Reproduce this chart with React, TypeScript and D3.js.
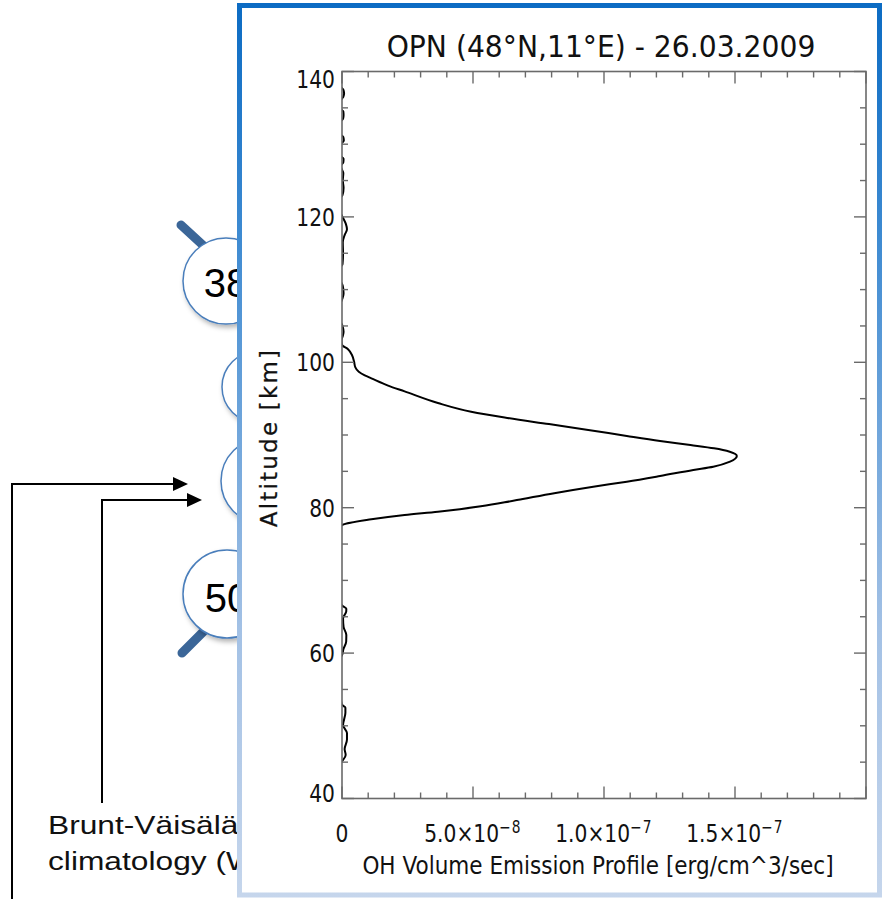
import React from "react";
import * as d3 from "d3";

// OH volume emission profile over Oberpfaffenhofen, 26.03.2009
// altitude in km, listed from top to bottom
const altitudeKm = [
  138, 137.5, 137, 136.5, 136, 135, 134.5, 134, 133.5, 133, 131.5, 131, 130.5, 130,
  128.5, 128, 127.5, 127, 126, 125, 124, 123, 122.5, 121, 120, 119, 118.3, 117.5,
  116.5, 115, 113.5, 113, 111.5, 110.5, 109.5, 108.8, 108, 106, 105, 104.2, 103.5,
  103, 102.4, 101.8, 101, 100.1, 99.3, 98.7, 98.2, 97.8, 96.8, 96, 94.4, 93.2, 92.4,
  91.5, 90.7, 89.86, 89.17, 88.62, 88.17, 87.7, 87.11, 86.33, 85.64,
  85.19, 84.36, 83.58, 82.89, 82.0, 81.2, 80.74, 80.2, 79.8, 79.45, 79.0, 78.4,
  77.6, 77.0, 72, 67, 66.55, 66.1, 65.7, 64.8, 63.6, 62.5, 61.6, 60.5, 59.7, 59.2,
  55, 53.3, 52.9, 52.5, 51.8, 50.1, 49, 48.1, 46.8, 46, 45.1, 44.6,
];

// emission in units of 1e-8 erg/cm^3/sec
const emissionE8 = [
  -0.1, 0.05, 0.08, 0.05, -0.05, -0.1, 0.05, 0.06, 0.04, -0.08, -0.1, 0.05, 0.07, -0.04,
  -0.1, 0.06, 0.05, -0.05, 0.05, 0.03, 0.06, 0.02, -0.08, -0.1, 0.02, 0.15, 0.19, 0.1,
  0.03, 0.04, 0.02, -0.06, -0.08, 0.03, 0.06, 0.02, -0.06, -0.1, 0.02, 0.06, 0.02,
  -0.02, 0.0, 0.23, 0.38, 0.46, 0.51, 0.64, 0.87, 1.12, 1.76, 2.39, 3.66, 4.93, 6.21,
  7.9, 9.4, 10.87, 12.14, 13.3, 14.2, 14.8, 15.07, 14.81, 14.17,
  13.41, 12.14, 10.87, 9.59, 8.1, 6.9, 6.21, 5.3, 4.5, 3.66, 2.39, 1.12,
  0.0, -0.1, -0.15, -0.05, 0.0, 0.165, 0.16, 0.04, 0.06, 0.165, 0.16, 0.05, 0.0, -0.1,
  -0.12, -0.03, 0.0, 0.13, 0.13, 0.04, 0.19, 0.19, 0.1, 0.14, 0.0, -0.1,
];

const altitudeDomain = [40, 140];
const emissionDomain = [0, 2e-7];
const altitudeMajorTicks = [40, 60, 80, 100, 120, 140];
const emissionTickValues = [0, 5e-8, 1e-7, 1.5e-7];
const emissionTickMantissa = ["0", "5.0×10", "1.0×10", "1.5×10"];
const emissionTickExponent = ["", "−8", "−7", "−7"];

const titleText = "OPN (48°N,11°E) - 26.03.2009";
const xAxisTitle = "OH Volume Emission Profile [erg/cm^3/sec]";
const yAxisTitle = "Altitude [km]";

const calloutNumbers = ["38", "", "", "50"];
const noteLines = ["Brunt-Väisälä", "climatology (W"];

const PLOT_FONT = "'DejaVu Sans', Verdana, sans-serif";
const SLIDE_FONT = "'Liberation Sans', Arial, sans-serif";

export default function App() {
  const W = 882;
  const H = 899;
  const left = 342;
  const right = 866;
  const top = 71.5;
  const bottom = 798.5;

  const x = d3.scaleLinear().domain(emissionDomain).range([left, right]);
  const y = d3.scaleLinear().domain(altitudeDomain).range([bottom, top]);

  const points: [number, number][] = altitudeKm.map((a, i) => [emissionE8[i] * 1e-8, a]);
  const profilePath =
    d3
      .line<[number, number]>()
      .x((d) => x(d[0]))
      .y((d) => y(d[1]))
      .curve(d3.curveMonotoneY)(points) || "";

  const altitudeMinor = d3.range(altitudeDomain[0], altitudeDomain[1] + 0.01, 5);
  const emissionMinor = d3.range(0, 20.01, 1).map((k) => k * 1e-8);
  const isMajorAlt = (v: number) => Math.abs(v % 20) < 1e-6;
  const isMajorEm = (v: number) => Math.abs(v / 5e-8 - Math.round(v / 5e-8)) < 1e-6;

  const majorLen = 12;
  const minorLen = 6;
  const axisColor = "#6a6a6a";

  // magnifier callouts on the slide behind the figure
  const callouts = [
    { cx: 226, cy: 281, r: 43, handle: [181, 225, 206, 248], ty: 297 },
    { cx: 258, cy: 387, r: 36, handle: null, ty: 0 },
    { cx: 264, cy: 481, r: 43, handle: null, ty: 0 },
    { cx: 227, cy: 594, r: 44, handle: [182, 653, 206, 629], ty: 612 },
  ];

  const tickLabelScale = 0.81;

  return (
    <svg
      width={W}
      height={H}
      viewBox={`0 0 ${W} ${H}`}
      style={{ position: "absolute", left: 0, top: 0, display: "block", background: "#fff" }}
    >
      <defs>
        <filter id="calloutShadow" x="-30%" y="-30%" width="160%" height="160%">
          <feDropShadow dx="2" dy="3" stdDeviation="2.5" floodColor="#000" floodOpacity="0.3" />
        </filter>
        <linearGradient id="frameGrad" gradientUnits="userSpaceOnUse" x1="0" y1="0" x2="0" y2={H}>
          <stop offset="0" stopColor="#0b6bc3" />
          <stop offset="0.25" stopColor="#3b89d1" />
          <stop offset="0.7" stopColor="#a3c1e5" />
          <stop offset="1" stopColor="#c6d6ec" />
        </linearGradient>
        <clipPath id="plotClip">
          <rect x={left} y={top} width={right - left} height={bottom - top} />
        </clipPath>
      </defs>

      {/* slide content: arrows */}
      <g stroke="#000" strokeWidth={2} fill="none">
        <polyline points={`12,${H} 12,484 175,484`} />
        <polyline points={`102,803 102,500 189,500`} />
      </g>
      <polygon points="173,477 188,484 173,491" fill="#000" />
      <polygon points="187,493 202,500 187,507" fill="#000" />

      {/* slide content: magnifier callouts */}
      {callouts.map((c, i) => (
        <g key={i}>
          {c.handle && (
            <line
              x1={c.handle[0]}
              y1={c.handle[1]}
              x2={c.handle[2]}
              y2={c.handle[3]}
              stroke="#3b6698"
              strokeWidth={9}
              strokeLinecap="round"
            />
          )}
          <circle
            cx={c.cx}
            cy={c.cy}
            r={c.r}
            fill="#fff"
            stroke="#4a7ebb"
            strokeWidth={1.5}
            filter="url(#calloutShadow)"
          />
          {calloutNumbers[i] && (
            <text
              x={c.cx}
              y={c.ty}
              textAnchor="middle"
              fontFamily={SLIDE_FONT}
              fontSize={40}
              fill="#000"
            >
              {calloutNumbers[i]}
            </text>
          )}
        </g>
      ))}

      {/* slide content: note text */}
      {noteLines.map((t, i) => (
        <text
          key={i}
          transform={`translate(48,${834 + i * 36}) scale(1.22,1)`}
          fontFamily={SLIDE_FONT}
          fontSize={26}
          fill="#111"
        >
          {t}
        </text>
      ))}

      {/* figure panel */}
      <rect
        x={239.5}
        y={5.5}
        width={640}
        height={889.5}
        fill="#fff"
        stroke="url(#frameGrad)"
        strokeWidth={5}
      />

      {/* title */}
      <text
        transform="translate(601,57) scale(0.91,1)"
        textAnchor="middle"
        fontFamily={PLOT_FONT}
        fontSize={31}
        fill="#111"
      >
        {titleText}
      </text>

      {/* profile */}
      <path
        d={profilePath}
        fill="none"
        stroke="#000"
        strokeWidth={2}
        strokeLinejoin="round"
        clipPath="url(#plotClip)"
      />

      {/* frame */}
      <rect
        x={left}
        y={top}
        width={right - left}
        height={bottom - top}
        fill="none"
        stroke={axisColor}
        strokeWidth={1.6}
      />

      {/* ticks on all four sides */}
      <g stroke={axisColor} strokeWidth={1.4}>
        {altitudeMinor.map((v) => {
          const len = isMajorAlt(v) ? majorLen : minorLen;
          return (
            <g key={v}>
              <line x1={left} x2={left + len} y1={y(v)} y2={y(v)} />
              <line x1={right} x2={right - len} y1={y(v)} y2={y(v)} />
            </g>
          );
        })}
        {emissionMinor.map((v) => {
          const len = isMajorEm(v) ? majorLen : minorLen;
          return (
            <g key={v}>
              <line x1={x(v)} x2={x(v)} y1={bottom} y2={bottom - len} />
              <line x1={x(v)} x2={x(v)} y1={top} y2={top + len} />
            </g>
          );
        })}
      </g>

      {/* altitude tick labels */}
      {altitudeMajorTicks.map((v) => {
        const nudge = v === altitudeDomain[1] ? 7.5 : v === altitudeDomain[0] ? -6 : 0;
        return (
          <text
            key={v}
            transform={`translate(335,${y(v) + 9 + nudge}) scale(${tickLabelScale},1)`}
            textAnchor="end"
            fontFamily={PLOT_FONT}
            fontSize={25}
            fill="#111"
          >
            {v}
          </text>
        );
      })}

      {/* emission tick labels */}
      {emissionTickValues.map((v, i) => (
        <text
          key={v}
          transform={`translate(${x(v)},842) scale(${tickLabelScale},1)`}
          textAnchor="middle"
          fontFamily={PLOT_FONT}
          fontSize={25}
          fill="#111"
        >
          {emissionTickMantissa[i]}
          {emissionTickExponent[i] && (
            <tspan dy={-9} fontSize={17} letterSpacing={1.5}>
              {emissionTickExponent[i]}
            </tspan>
          )}
        </text>
      ))}

      {/* axis titles */}
      <text
        transform="translate(598,873.5) scale(0.88,1)"
        textAnchor="middle"
        fontFamily={PLOT_FONT}
        fontSize={24.5}
        fill="#111"
      >
        {xAxisTitle}
      </text>
      <text
        transform={`translate(277,437.5) rotate(-90)`}
        textAnchor="middle"
        fontFamily={PLOT_FONT}
        fontSize={23}
        letterSpacing={2.2}
        fill="#111"
        stroke="#111"
        strokeWidth={0.25}
      >
        {yAxisTitle}
      </text>
    </svg>
  );
}
